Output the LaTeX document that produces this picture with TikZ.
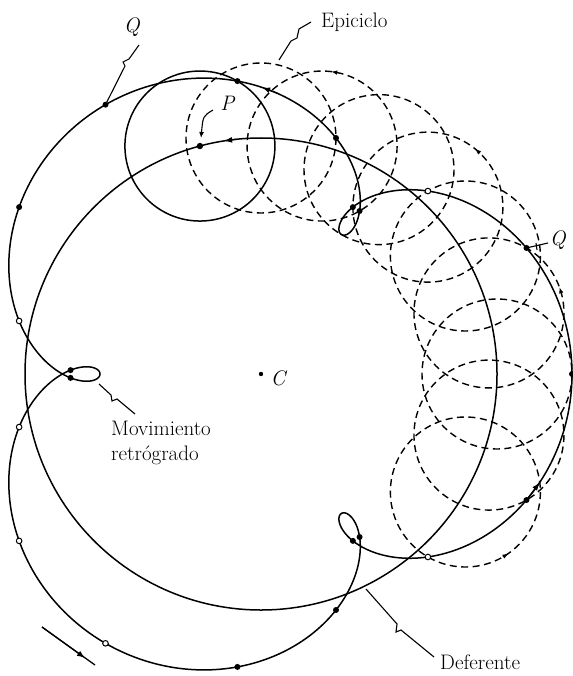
\documentclass[tikz,border=0pt]{standalone}
\usetikzlibrary{arrows.meta}
\pgfmathdeclarefunction{plx}{1}{\pgfmathparse{261+236*cos(#1)+75*cos(4*(#1))}}
\pgfmathdeclarefunction{ply}{1}{\pgfmathparse{374-236*sin(#1)-75*sin(4*(#1))}}
\pgfmathdeclarefunction{dfx}{1}{\pgfmathparse{261+236*cos(#1)}}
\pgfmathdeclarefunction{dfy}{1}{\pgfmathparse{374-236*sin(#1)}}
\begin{document}
\begin{tikzpicture}[x=1pt,y=-1pt,
  solidline/.style={line width=1.5pt, line join=round},
  dashline/.style={line width=1.4pt, dash pattern=on 7pt off 4.5pt},
  leader/.style={line width=1.1pt, line join=miter},
  odot/.style={draw=black, fill=white, line width=1pt},
  lab/.style={font=\fontsize{21}{25}\selectfont, inner sep=0pt},
  tip/.style={-{Latex[length=8pt,width=6pt]}, line width=1.2pt},
  smalltip/.style={-{Latex[length=6pt,width=4.5pt]}, line width=1pt}
]
\useasboundingbox (0,0) rectangle (572,676);
\fill[white] (0,0) rectangle (572,676);

% epicycles (dashed)
\foreach \a in {90,75,...,-30} {
  \draw[dashline] ({dfx(\a)},{dfy(\a)}) circle[radius=75];
}
% arrow marks on epicycles
\draw[smalltip] ({dfx(75)+75*cos(78)},{dfy(75)-75*sin(78)}) -- ({dfx(75)+75*cos(83)},{dfy(75)-75*sin(83)});
\draw[smalltip] ({dfx(45)+75*cos(46)},{dfy(45)-75*sin(46)}) -- ({dfx(45)+75*cos(51)},{dfy(45)-75*sin(51)});
\draw[smalltip] ({dfx(15)+75*cos(15)},{dfy(15)-75*sin(15)}) -- ({dfx(15)+75*cos(20)},{dfy(15)-75*sin(20)});
\draw[smalltip] ({dfx(-30)+75*cos(-60)},{dfy(-30)-75*sin(-60)}) -- ({dfx(-30)+75*cos(-55)},{dfy(-30)-75*sin(-55)});

% deferent
\coordinate (C) at (261,374);
\draw[solidline] (C) circle[radius=236];
% epicycle at P (solid)
\coordinate (P) at ({dfx(105)},{dfy(105)});
\draw[solidline] (P) circle[radius=75];

% planet path
\draw[solidline] plot[domain=0:360, samples=721] ({plx(\x)},{ply(\x)}) -- cycle;

% direction arrows
\draw[tip] ({dfx(96)},{dfy(96)}) -- ({dfx(99)},{dfy(99)});
\draw[tip] ({plx(100)},{ply(100)}) -- ({plx(102)},{ply(102)});
\draw[tip] ({plx(-15)},{ply(-15)}) -- ({plx(-12.5)},{ply(-12.5)});
\coordinate (d1) at (42,627);
\coordinate (d2) at (95,665);
\coordinate (d3) at (85,658);
\draw[line width=1.3pt] (d1) -- (d2);
\draw[tip] (d1) -- (d3);

% planet positions
\foreach \a in {0,15,45,75,90,105,120,135,165,195,255,270,285,315,345}
  \fill ({plx(\a)},{ply(\a)}) circle[radius=3];
\foreach \a in {30,150,210,225,240,330}
  \filldraw[odot] ({plx(\a)},{ply(\a)}) circle[radius=2.8];
\fill (P) circle[radius=3.2];
\fill (C) circle[radius=2.2];

% labels
\node[lab] (Cl) at (279,378) {\textit{C}};
\node[lab] (Pl) at (228,103) {\textit{P}};
\draw[leader, -{Latex[length=6pt,width=5pt]}] (213,110) .. controls (203,116) .. (201,138);

\node[lab] (Q1) at (132,27) {\textit{Q}};
\draw[leader] (139,45) -- (129,59) -- (123,62) -- (125,66) -- ({plx(120)},{ply(120)});

\node[lab] (Q2) at (558,240) {\textit{Q}};
\draw[leader] (548,243) -- ({plx(15)},{ply(15)});
\draw[leader] (536,243) -- (537,250);

\node[lab, anchor=west] (Ep) at (321,22) {Epiciclo};
\draw[leader] (311,22) -- (299,29) -- (297,38) -- (291,41) -- (279,60);

\node[lab, anchor=north west, align=left] (Mov) at (111,421) {Movimiento\\retr\'ogrado};
\draw[leader] (135,414) -- (117,399) -- (112,401) -- (111,395) -- (99,384);

\node[lab, anchor=base west] (Def) at (440,669) {Deferente};
\draw[leader] (434,657) -- (401,630) -- (396,632) -- (397,624) -- (366,589);
\end{tikzpicture}
\end{document}
